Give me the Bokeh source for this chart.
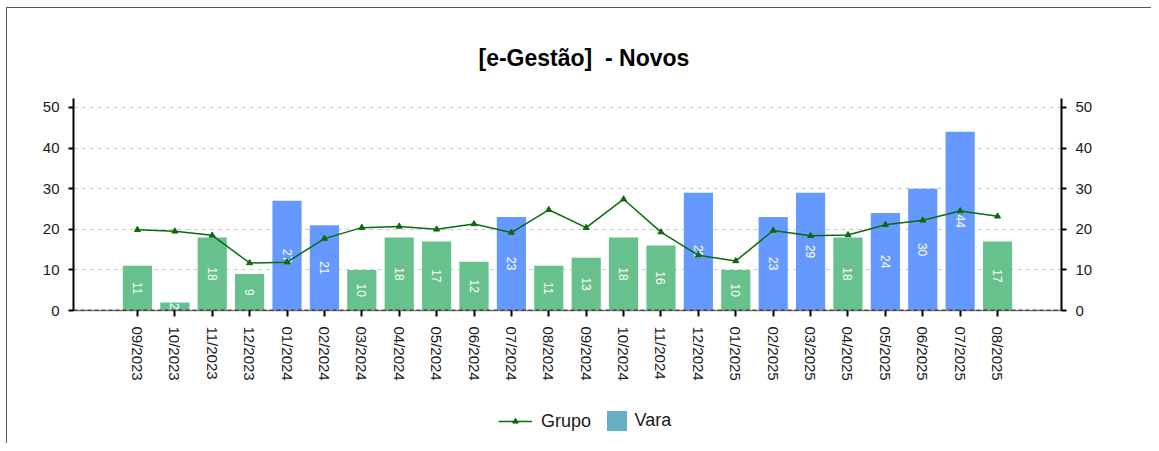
import math
from bokeh.plotting import figure
from bokeh.layouts import column
from bokeh.models import (Range1d, LinearAxis, FixedTicker, ColumnDataSource, Title,
                          Legend, LegendItem, Span)
from bokeh.core.properties import value
from bokeh.embed import file_html
from bokeh.resources import INLINE

months = ["09/2023", "10/2023", "11/2023", "12/2023", "01/2024", "02/2024", "03/2024",
          "04/2024", "05/2024", "06/2024", "07/2024", "08/2024", "09/2024", "10/2024",
          "11/2024", "12/2024", "01/2025", "02/2025", "03/2025", "04/2025", "05/2025",
          "06/2025", "07/2025", "08/2025"]
vara = [11, 2, 18, 9, 27, 21, 10, 18, 17, 12, 23, 11, 13, 18, 16, 29, 10, 23, 29, 18, 24, 30, 44, 17]
grupo = [19.9, 19.5, 18.5, 11.7, 11.9, 17.7, 20.4, 20.7, 20.0, 21.3, 19.2, 24.8, 20.4, 27.4,
         19.3, 13.6, 12.2, 19.7, 18.4, 18.6, 21.1, 22.2, 24.5, 23.2]
y_ticks = [0, 10, 20, 30, 40, 50]

BLUE = "#6699FF"
GREEN = "#66C18C"
MID = "#66ADC5"
LINE = "#0B6B0B"
FONT = "Liberation Sans"

idx = list(range(len(months)))
colors = [BLUE if v > g else GREEN for v, g in zip(vara, grupo)]
src = ColumnDataSource(dict(x=idx, vara=vara, half=[v / 2 for v in vara],
                            lab=[str(v) for v in vara], grupo=grupo, color=colors))

p = figure(width=1144, height=400, output_backend="svg", toolbar_location=None,
           x_range=Range1d(-1.71, len(months) - 1 + 1.71), y_range=Range1d(0, 52.2),
           min_border_left=66, min_border_right=90, min_border_top=90, min_border_bottom=98,
           y_axis_location=None, x_axis_location=None)
p.outline_line_color = None
p.background_fill_color = "white"
p.border_fill_color = "white"

p.title = Title(text="[e-Gestão] \u00a0- Novos", align="left", offset=405,
                text_font=FONT, text_font_size="23px", text_font_style="bold",
                text_color="black", standoff=55)

# axes
xaxis = LinearAxis(ticker=FixedTicker(ticks=idx),
                   major_label_overrides={i: m for i, m in enumerate(months)})
xaxis.major_label_orientation = -math.pi / 2
xaxis.axis_line_color = "#7F7F7F"
xaxis.axis_line_width = 1.5
xaxis.major_tick_line_color = "black"
xaxis.major_tick_line_width = 2
xaxis.major_tick_in = 0
xaxis.major_tick_out = 6
xaxis.minor_tick_line_color = None
xaxis.major_label_standoff = 10
xaxis.major_label_text_font = FONT
xaxis.major_label_text_font_size = "15px"
xaxis.major_label_text_color = "#1a1a1a"
p.add_layout(xaxis, "below")

for loc in ("left", "right"):
    ax = LinearAxis(ticker=FixedTicker(ticks=y_ticks))
    ax.axis_line_color = "black"
    ax.axis_line_width = 2
    ax.major_tick_line_color = "black"
    ax.major_tick_line_width = 2
    ax.major_tick_in = 0
    ax.major_tick_out = 5
    ax.minor_tick_line_color = None
    ax.major_label_standoff = 9
    ax.major_label_text_font = FONT
    ax.major_label_text_font_size = "15px"
    ax.major_label_text_color = "#1a1a1a"
    p.add_layout(ax, loc)

p.xgrid.grid_line_color = None
p.ygrid.ticker = FixedTicker(ticks=y_ticks[1:])
p.ygrid.grid_line_color = "#C8C8C8"
p.ygrid.grid_line_dash = "4 4"
p.ygrid.grid_line_width = 1

p.add_layout(Span(location=0, dimension="width", line_color="black",
                  line_dash="4 3", line_width=1.5))

p.vbar(x="x", top="vara", width=0.78, source=src, fill_color="color", line_color=None)
p.text(x="x", y="half", text="lab", source=src, angle=-math.pi / 2,
       text_color="white", text_font=value(FONT), text_font_size="12px",
       text_align="center", text_baseline="middle")

p.line(x="x", y="grupo", source=src, line_color=LINE, line_width=1.5)
p.scatter(x="x", y="grupo", source=src, marker="triangle", size=6,
          fill_color=LINE, line_color=LINE)

# legend strip (separate small figure below the chart; its glyphs fall outside its view)
lf = figure(width=1144, height=35, output_backend="svg", toolbar_location=None, title=None,
            x_range=Range1d(-1.71, len(months) - 1 + 1.71), y_range=Range1d(1000, 1001),
            min_border_left=66, min_border_right=90, min_border_top=0, min_border_bottom=0,
            x_axis_location=None, y_axis_location=None)
lf.outline_line_color = None
lf.background_fill_color = "white"
lf.border_fill_color = "white"
lf.xgrid.grid_line_color = None
lf.ygrid.grid_line_color = None

g_ln = lf.line(x="x", y="grupo", source=src, line_color=LINE, line_width=1.5)
g_mk = lf.scatter(x="x", y="grupo", source=src, marker="triangle", size=6,
                  fill_color=LINE, line_color=LINE)
v_bar = lf.vbar(x="x", top="vara", width=0.78, source=src, fill_color=MID, line_color=None)

common = dict(orientation="horizontal", label_height=24, padding=0, margin=0,
              border_line_color=None, background_fill_alpha=0,
              label_text_font=FONT, label_text_font_size="18px", label_text_color="#1a1a1a")
leg1 = Legend(items=[LegendItem(label="Grupo", renderers=[g_ln, g_mk])],
              location=(425, 10), glyph_width=34, glyph_height=14, label_standoff=9, **common)
leg2 = Legend(items=[LegendItem(label="Vara", renderers=[v_bar])],
              location=(530.5, 10), glyph_width=25, glyph_height=25, label_standoff=6, **common)
lf.add_layout(leg1, "center")
lf.add_layout(leg2, "center")

layout = column(p, lf, spacing=0)
layout.styles = {"margin-left": "6px", "margin-top": "7px",
                 "border-left": "1px solid #555555", "border-top": "1px solid #555555"}

open("out.html", "w").write(file_html(layout, INLINE))
